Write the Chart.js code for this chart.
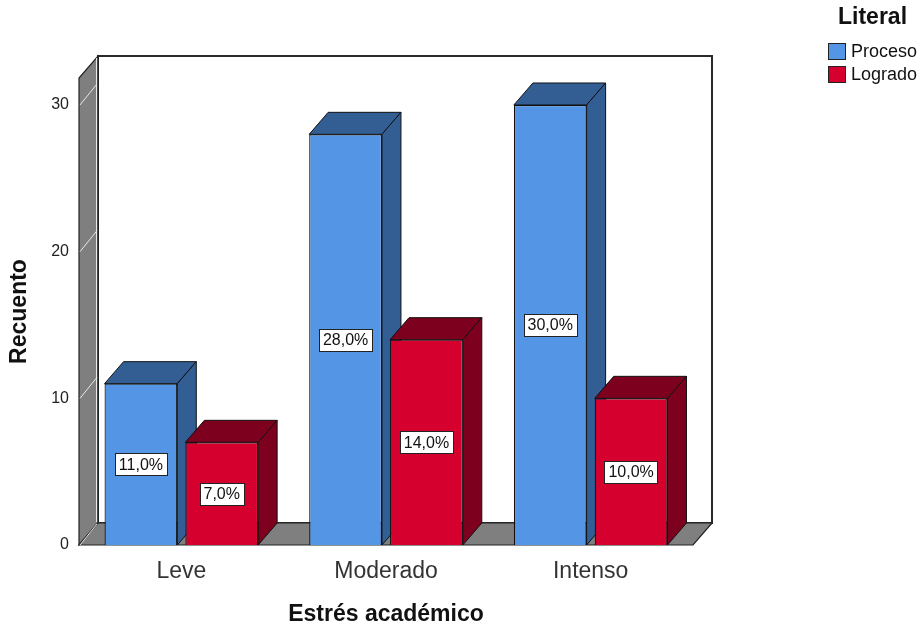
<!DOCTYPE html>
<html>
<head>
<meta charset="utf-8">
<script src="https://cdn.jsdelivr.net/npm/chart.js@4/dist/chart.umd.min.js"></script>
<style>
  html, body { margin: 0; padding: 0; background: #fff; }
  #wrap { width: 920px; height: 627px; }
</style>
</head>
<body>
<div id="wrap"><canvas id="chart" width="920" height="627"></canvas></div>
<script>
// data
const categories = ["Leve", "Moderado", "Intenso"];
const seriesNames = ["Proceso", "Logrado"];
const proceso = [11, 28, 30];
const logrado = [7, 14, 10];
const yTicks = [0, 10, 20, 30];

// colours: front, dark (top/side)
const frontColors = ["#5595e5", "#d5002d"];
const darkColors = ["#335e94", "#7d001f"];

const depthX = 19, depthY = 22;
const FONT = "'Liberation Sans', Arial, sans-serif";

const total = proceso.concat(logrado).reduce((a, b) => a + b, 0);
function pct(v) {
  return (v / total * 100).toFixed(1).replace(".", ",") + "%";
}

// walls + floor + the 3D faces of the bars, drawn before the fronts
const box3d = {
  id: "box3d",
  beforeDatasetsDraw(chart) {
    const { ctx, chartArea: a, scales: { y } } = chart;
    ctx.save();
    // back wall
    ctx.fillStyle = "#fff";
    ctx.strokeStyle = "#2a2a2a";
    ctx.lineWidth = 2;
    ctx.fillRect(a.left + depthX, a.top - depthY, a.right - a.left, a.bottom - a.top);
    ctx.strokeRect(a.left + depthX, a.top - depthY, a.right - a.left, a.bottom - a.top);

    // left side wall
    ctx.fillStyle = "#7f7f7f";
    ctx.beginPath();
    ctx.moveTo(a.left, a.bottom);
    ctx.lineTo(a.left, a.top);
    ctx.lineTo(a.left + depthX, a.top - depthY);
    ctx.lineTo(a.left + depthX, a.bottom - depthY);
    ctx.closePath();
    ctx.fill();
    ctx.strokeStyle = "#222";
    ctx.lineWidth = 1.2;
    ctx.stroke();

    // floor
    ctx.beginPath();
    ctx.moveTo(a.left, a.bottom);
    ctx.lineTo(a.left + depthX, a.bottom - depthY);
    ctx.lineTo(a.right + depthX, a.bottom - depthY);
    ctx.lineTo(a.right, a.bottom);
    ctx.closePath();
    ctx.fill();
    ctx.stroke();

    // grid lines on the side wall
    ctx.strokeStyle = "#e8e8e8";
    ctx.lineWidth = 1;
    yTicks.forEach(t => {
      const py = y.getPixelForValue(t);
      ctx.beginPath();
      ctx.moveTo(a.left + 1, py);
      ctx.lineTo(a.left + depthX - 1, py - depthY + 1);
      ctx.stroke();
    });
    // inner back edge of the side wall
    ctx.beginPath();
    ctx.moveTo(a.left + depthX - 1.5, a.top - depthY + 2);
    ctx.lineTo(a.left + depthX - 1.5, a.bottom - depthY - 1);
    ctx.stroke();

    // bar tops and sides
    ctx.strokeStyle = "#111";
    ctx.lineWidth = 1;
    for (let c = 0; c < categories.length; c++) {
      chart.data.datasets.forEach((ds, i) => {
        const el = chart.getDatasetMeta(i).data[c];
        const { x, y: top, base, width } = el.getProps(["x", "y", "base", "width"], true);
        const l = x - width / 2, r = x + width / 2;
        ctx.fillStyle = darkColors[i];
        // top
        ctx.beginPath();
        ctx.moveTo(l, top);
        ctx.lineTo(l + depthX, top - depthY);
        ctx.lineTo(r + depthX, top - depthY);
        ctx.lineTo(r, top);
        ctx.closePath();
        ctx.fill();
        ctx.stroke();
        // side
        ctx.beginPath();
        ctx.moveTo(r, top);
        ctx.lineTo(r + depthX, top - depthY);
        ctx.lineTo(r + depthX, base - depthY);
        ctx.lineTo(r, base);
        ctx.closePath();
        ctx.fill();
        ctx.stroke();
      });
    }
    ctx.restore();
  },
  afterDatasetsDraw(chart) {
    const { ctx } = chart;
    ctx.save();
    ctx.font = "16px " + FONT;
    ctx.textAlign = "center";
    ctx.textBaseline = "middle";
    chart.data.datasets.forEach((ds, i) => {
      chart.getDatasetMeta(i).data.forEach((el, j) => {
        const { x, y: top, base } = el.getProps(["x", "y", "base"], true);
        const cy = (top + base) / 2;
        const txt = pct(ds.data[j]);
        const w = ctx.measureText(txt).width + 8;
        const h = 22;
        ctx.fillStyle = "#fff";
        ctx.fillRect(Math.round(x - w / 2) + 0.5, Math.round(cy - h / 2) + 0.5, Math.round(w), h);
        ctx.strokeStyle = "#222";
        ctx.lineWidth = 1;
        ctx.strokeRect(Math.round(x - w / 2) + 0.5, Math.round(cy - h / 2) + 0.5, Math.round(w), h);
        ctx.fillStyle = "#111";
        ctx.fillText(txt, x, cy + 1);
      });
    });
    ctx.restore();
  },
  afterDraw(chart) {
    // legend on the right
    const { ctx } = chart;
    ctx.save();
    ctx.fillStyle = "#111";
    ctx.font = "bold 23px " + FONT;
    ctx.textAlign = "left";
    ctx.textBaseline = "middle";
    ctx.fillText("Literal", 838, 18);
    ctx.font = "18px " + FONT;
    chart.data.datasets.forEach((ds, i) => {
      const ly = 43 + i * 23;
      ctx.fillStyle = frontColors[i];
      ctx.fillRect(828, ly, 17, 16);
      ctx.strokeStyle = "#222";
      ctx.lineWidth = 1;
      ctx.strokeRect(828.5, ly + 0.5, 17, 16);
      ctx.fillStyle = "#111";
      ctx.fillText(ds.label, 851, ly + 9);
    });
    ctx.restore();
  }
};

new Chart(document.getElementById("chart"), {
  type: "bar",
  data: {
    labels: categories,
    datasets: [
      { label: seriesNames[0], data: proceso, backgroundColor: frontColors[0] },
      { label: seriesNames[1], data: logrado, backgroundColor: frontColors[1] }
    ].map(d => Object.assign(d, {
      borderColor: "#111",
      borderWidth: 1.2,
      categoryPercentage: 0.79,
      barPercentage: 0.9
    }))
  },
  options: {
    responsive: false,
    animation: false,
    layout: { padding: { top: 78, right: 227, left: 0, bottom: 0 } },
    plugins: { legend: { display: false }, tooltip: { enabled: false } },
    scales: {
      x: {
        grid: { display: false, drawTicks: false },
        border: { display: false },
        ticks: { color: "#333", padding: 13, font: { family: FONT, size: 23 } },
        title: {
          display: true, text: "Estrés académico", color: "#111",
          font: { family: FONT, size: 23, weight: "bold", lineHeight: 1.1 }, padding: { bottom: 0 }
        },
        afterFit(s) { s.height = 82; }
      },
      y: {
        min: 0,
        max: 31.84,
        grid: { display: false, drawTicks: false },
        border: { display: false },
        ticks: {
          stepSize: 10, includeBounds: false, padding: 10, color: "#222",
          font: { family: FONT, size: 16 }
        },
        afterBuildTicks(s) { s.ticks = yTicks.map(v => ({ value: v })); },
        title: {
          display: true, text: "Recuento", color: "#111",
          font: { family: FONT, size: 23, weight: "bold" }, padding: { top: 6 }
        },
        afterFit(s) { s.width = 79; }
      }
    }
  },
  plugins: [box3d]
});
</script>
</body>
</html>
